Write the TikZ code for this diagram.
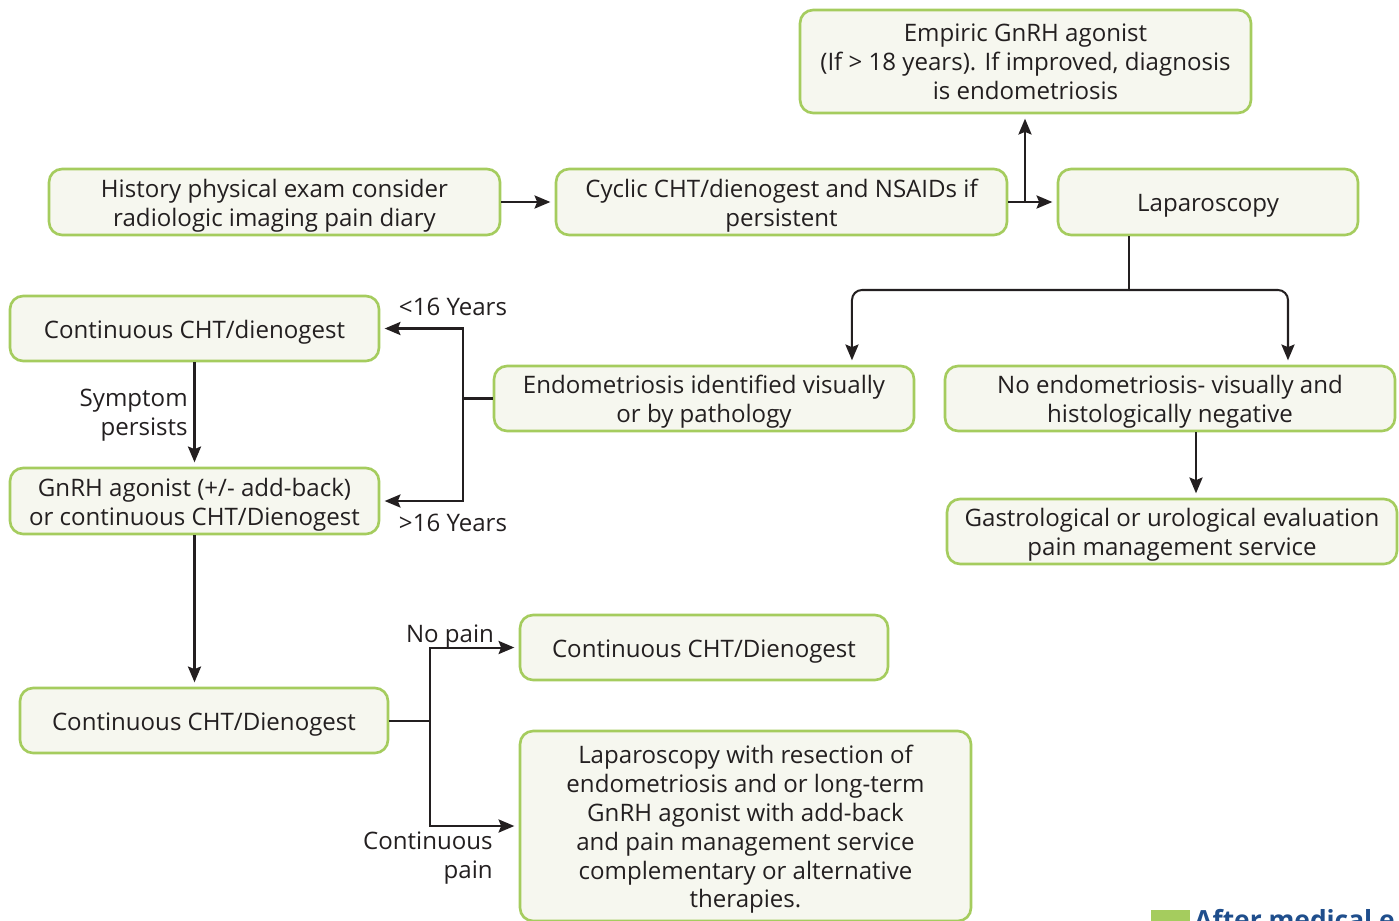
\documentclass[tikz,border=0pt]{standalone}
\usepackage{fontspec}
\setsansfont{Open Sans}
\usetikzlibrary{arrows.meta}
\definecolor{endoleaf}{HTML}{A5CC5E}
\definecolor{endopaper}{HTML}{F6F7EF}
\definecolor{endoink}{HTML}{231F20}
\definecolor{endonavy}{HTML}{1F4E8C}
\newcommand{\lift}{\rule{0pt}{14.5pt}}

\begin{document}
\begin{tikzpicture}[x=0.02cm,y=-0.02cm,font=\sffamily,
    >={Stealth[length=9pt,width=7.5pt,inset=1.5pt]}]
  \tikzstyle{box}=[draw=endoleaf, fill=endopaper, line width=1.5pt, rounded corners=0.26cm,
    inner sep=0pt, align=center, text=endoink, font=\sffamily\fontsize{13.7}{16.4}\selectfont]
  \tikzstyle{flow}=[->, draw=endoink, line width=1.15pt, shorten >=2.5pt]
  \tikzstyle{wire}=[draw=endoink, line width=1.15pt]
  \tikzstyle{tag}=[text=endoink, inner sep=0pt, font=\sffamily\fontsize{13.7}{16.4}\selectfont]

  \useasboundingbox (0,0) rectangle (1399,920);
  \clip (0,0) rectangle (1399,920);

  % Top row: work-up and first-line treatment.
  \node[box, minimum width=9.02cm, minimum height=2.06cm] (emp) at (1025.5,61.5)
    {Empiric GnRH agonist\\(If > 18 years). If improved, diagnosis\\is endometriosis};
  \node[box, minimum width=9.02cm, minimum height=1.32cm] (hist) at (274.5,202)
    {\lift History physical exam consider\\radiologic imaging pain diary};
  \node[box, minimum width=9.02cm, minimum height=1.32cm] (cyc) at (781.5,202)
    {\lift Cyclic CHT/dienogest and NSAIDs if\\persistent};
  \node[box, minimum width=6.0cm, minimum height=1.32cm] (lap) at (1208,202) {\lift Laparoscopy};

  % Laparoscopy findings.
  \node[box, minimum width=8.4cm, minimum height=1.3cm] (endo) at (704,398.5)
    {\lift Endometriosis identified visually\\or by pathology};
  \node[box, minimum width=9.0cm, minimum height=1.3cm] (noendo) at (1170,398.5)
    {\lift No endometriosis- visually and\\histologically negative};
  \node[box, minimum width=9.0cm, minimum height=1.3cm] (gastro) at (1172,531.5)
    {\lift Gastrological or urological evaluation\\pain management service};

  % Left column: treatment by age.
  \node[box, minimum width=7.38cm, minimum height=1.3cm] (cont) at (194.5,328.5)
    {\lift Continuous CHT/dienogest};
  \node[box, minimum width=7.38cm, minimum height=1.32cm] (gnrh) at (194.5,501)
    {\lift GnRH agonist (+/- add-back)\\or continuous CHT/Dienogest};
  \node[box, minimum width=7.36cm, minimum height=1.3cm] (contl) at (204,720.5)
    {\lift Continuous CHT/Dienogest};
  \node[box, minimum width=7.36cm, minimum height=1.3cm] (contr) at (704,647.5)
    {\lift Continuous CHT/Dienogest};
  \node[box, minimum width=9.02cm, minimum height=3.8cm] (lapres) at (745.5,826)
    {\lift Laparoscopy with resection of\\endometriosis and or long-term\\GnRH agonist with add-back\\and pain management service\\complementary or alternative\\therapies.};

  % Connectors.
  \draw[flow] (hist.east) -- (cyc.west);
  \draw[flow] (cyc.east) -- (lap.west);
  \coordinate (up) at (1025,202);
  \draw[flow] (up) -- (up |- emp.south);

  \coordinate (fork) at (1129,290);
  \draw[wire] (fork |- lap.south) -- (fork);
  \draw[flow, rounded corners=0.2cm] (fork) -| ([xshift=2.96cm]endo.north);
  \draw[flow, rounded corners=0.2cm] (fork) -| ([xshift=2.36cm]noendo.north);
  \draw[flow] ([xshift=0.52cm]noendo.south) -- ([xshift=0.52cm]noendo.south |- gastro.north);

  \coordinate (age) at (463,398.5);
  \draw[wire] (endo.west) -- (age);
  \draw[flow] (age) |- (cont.east);
  \draw[flow] (age) |- (gnrh.east);
  \draw[flow] (cont.south) -- (gnrh.north);
  \draw[flow] (gnrh.south) -- (gnrh.south |- contl.north);

  \coordinate (pain) at (430,720.5);
  \draw[wire] (contl.east) -- (pain);
  \draw[flow] (pain) |- (contr.west);
  \draw[flow] (pain) |- (lapres.west);

  % Connector labels.
  \node[tag] (young) at (453,307) {<16 Years};
  \node[tag] (old) at (453,523) {>16 Years};
  \node[tag, anchor=east, align=right] (persist) at (188,415) {Symptom\\persists};
  \node[tag] (nopain) at (450,637) {No pain};
  \node[tag, anchor=east, align=right] (still) at (493,858) {Continuous\\pain};

  % Cut-off heading at the lower edge.
  \fill[endoleaf] (1151,910) rectangle (1190,930);
  \node[anchor=base west, inner sep=0pt, text=endonavy, font=\sffamily\bfseries\fontsize{15}{18}\selectfont]
    (next) at (1194,929) {After medical e};
\end{tikzpicture}
\end{document}
